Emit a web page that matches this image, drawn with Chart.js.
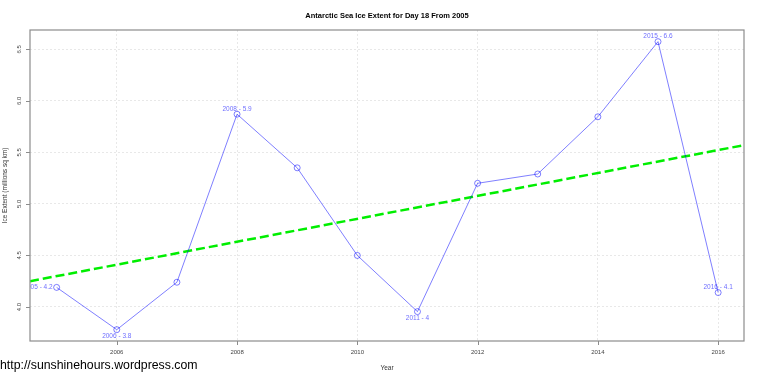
<!DOCTYPE html>
<html>
<head>
<meta charset="utf-8">
<script src="https://cdn.jsdelivr.net/npm/chart.js@4.4.1/dist/chart.umd.min.js"></script>
<style>
  html, body { margin: 0; padding: 0; background: #fff; }
  #wrap { width: 760px; height: 379px; }
</style>
</head>
<body>
<div id="wrap"><canvas id="chart" width="760" height="379"></canvas></div>
<script>
// values
const years = [2005, 2006, 2007, 2008, 2009, 2010, 2011, 2012, 2013, 2014, 2015, 2016];
const extent = [4.19, 3.78, 4.24, 5.87, 5.35, 4.50, 3.955, 5.20, 5.29, 5.845, 6.574, 4.14];
const trendX = [2004.557, 2016.43];
const trendY = [4.25, 5.57];
const xTicks = [2006, 2008, 2010, 2012, 2014, 2016];
const yTicks = [4.0, 4.5, 5.0, 5.5, 6.0, 6.5];
// which points get a label and where ('left', 'below', 'above')
const labelled = { 2005: 'left', 2006: 'below', 2008: 'above', 2011: 'below', 2015: 'above', 2016: 'above' };

const blue = 'rgba(0,0,255,0.5)';
const font = '"Liberation Sans", Arial, sans-serif';

const decor = {
  id: 'decor',
  afterDatasetsDraw(chart) {
    const ctx = chart.ctx;
    const a = chart.chartArea;
    const xs = chart.scales.x, ys = chart.scales.y;

    // point labels, clipped to plot region like R
    const meta = chart.getDatasetMeta(0);
    ctx.save();
    ctx.beginPath();
    ctx.rect(a.left, a.top, a.right - a.left, a.bottom - a.top);
    ctx.clip();
    ctx.fillStyle = 'rgba(0,0,255,0.6)';
    ctx.font = '6.5px ' + font;
    ctx.textBaseline = 'middle';
    meta.data.forEach((pt, i) => {
      const pos = labelled[years[i]];
      if (!pos) return;
      const txt = years[i] + ' - ' + Math.round(extent[i] * 10) / 10;
      if (pos === 'left') { ctx.textAlign = 'right'; ctx.fillText(txt, pt.x - 4, pt.y); }
      else if (pos === 'below') { ctx.textAlign = 'center'; ctx.fillText(txt, pt.x, pt.y + 6.5); }
      else { ctx.textAlign = 'center'; ctx.fillText(txt, pt.x, pt.y - 5.5); }
    });
    ctx.restore();

    ctx.save();
    // box
    ctx.strokeStyle = '#8c8c8c';
    ctx.lineWidth = 1.2;
    ctx.strokeRect(a.left, a.top, a.right - a.left, a.bottom - a.top);

    // tick marks and tick labels
    ctx.fillStyle = '#444';
    ctx.font = '6px ' + font;
    ctx.lineWidth = 1;
    ctx.beginPath();
    xTicks.forEach(v => {
      const px = Math.round(xs.getPixelForValue(v)) + 0.5;
      ctx.moveTo(px, a.bottom); ctx.lineTo(px, a.bottom + 4);
    });
    yTicks.forEach(v => {
      const py = Math.round(ys.getPixelForValue(v)) + 0.5;
      ctx.moveTo(a.left, py); ctx.lineTo(a.left - 4, py);
    });
    ctx.stroke();
    ctx.textAlign = 'center';
    ctx.textBaseline = 'middle';
    xTicks.forEach(v => ctx.fillText(String(v), xs.getPixelForValue(v), a.bottom + 11.5));
    yTicks.forEach(v => {
      ctx.save();
      ctx.translate(a.left - 11, ys.getPixelForValue(v));
      ctx.rotate(-Math.PI / 2);
      ctx.fillText(v.toFixed(1), 0, 0);
      ctx.restore();
    });

    // titles
    ctx.fillStyle = '#000';
    ctx.font = 'bold 7.5px ' + font;
    ctx.fillText('Antarctic Sea Ice Extent for Day 18 From 2005', (a.left + a.right) / 2, 15.5);
    ctx.fillStyle = '#333';
    ctx.font = '6.5px ' + font;
    ctx.fillText('Year', (a.left + a.right) / 2, 368);
    ctx.save();
    ctx.translate(5, (a.top + a.bottom) / 2);
    ctx.rotate(-Math.PI / 2);
    ctx.fillText('Ice Extent (millions sq km)', 0, 0);
    ctx.restore();

    ctx.fillStyle = '#000';
    ctx.font = '12.3px ' + font;
    ctx.textAlign = 'left';
    ctx.fillText('http://sunshinehours.wordpress.com', 0, 366);
    ctx.restore();
  }
};

new Chart(document.getElementById('chart'), {
  type: 'scatter',
  data: {
    datasets: [
      {
        data: years.map((y, i) => ({ x: y, y: extent[i] })),
        showLine: true,
        borderColor: blue,
        borderWidth: 1,
        pointStyle: 'circle',
        pointRadius: 3,
        pointBorderWidth: 1,
        pointBorderColor: blue,
        pointBackgroundColor: 'rgba(0,0,0,0)'
      },
      {
        data: trendX.map((x, i) => ({ x: x, y: trendY[i] })),
        showLine: true,
        borderColor: '#00ee00',
        borderWidth: 2.5,
        borderDash: [9, 4],
        pointRadius: 0
      }
    ]
  },
  options: {
    responsive: false,
    animation: false,
    layout: { padding: { left: 30, top: 30, right: 16, bottom: 38 } },
    plugins: { legend: { display: false }, title: { display: false }, tooltip: { enabled: false } },
    scales: {
      x: {
        type: 'linear',
        min: 2004.557,
        max: 2016.43,
        afterBuildTicks: s => { s.ticks = xTicks.map(v => ({ value: v })); },
        ticks: { display: false },
        grid: { color: '#e8e8e8', drawTicks: false },
        border: { display: false, dash: [2, 2] }
      },
      y: {
        min: 3.67,
        max: 6.687,
        afterBuildTicks: s => { s.ticks = yTicks.map(v => ({ value: v })); },
        ticks: { display: false },
        grid: { color: '#e8e8e8', drawTicks: false },
        border: { display: false, dash: [2, 2] }
      }
    }
  },
  plugins: [decor]
});
</script>
</body>
</html>
